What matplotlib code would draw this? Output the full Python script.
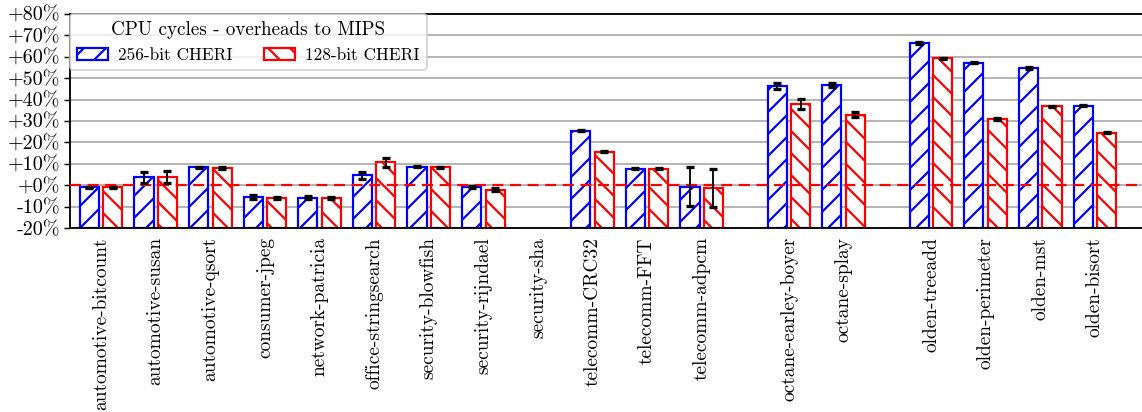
import numpy as np
import matplotlib
matplotlib.use("Agg")
import matplotlib.pyplot as plt

plt.rcParams['font.family'] = ['cmr10', 'DejaVu Serif']
plt.rcParams['axes.unicode_minus'] = False
plt.rcParams['hatch.linewidth'] = 1.2

# --- benchmarks, split into suites ---
mibench = ["automotive-bitcount", "automotive-susan", "automotive-qsort",
           "consumer-jpeg", "network-patricia", "office-stringsearch",
           "security-blowfish", "security-rijndael", "security-sha",
           "telecomm-CRC32", "telecomm-FFT", "telecomm-adpcm"]
octane = ["octane-earley-boyer", "octane-splay"]
olden = ["olden-treeadd", "olden-perimeter", "olden-mst", "olden-bisort"]

# overhead in % over MIPS (nan = no result)
cheri256 = [-1.0, 3.7, 8.4, -5.5, -5.8, 4.6, 8.6, -0.7, np.nan, 25.5, 7.7, -0.7,
            46.5, 46.8,
            66.6, 57.2, 54.9, 37.1]
cheri256_err = [0.3, 2.5, 0.3, 0.8, 0.8, 1.6, 0.3, 0.5, np.nan, 0.3, 0.3, 9.0,
                1.4, 1.0,
                0.4, 0.3, 0.4, 0.3]
cheri128 = [-1.0, 4.0, 8.0, -6.0, -6.0, 10.7, 8.4, -2.2, np.nan, 15.7, 7.7, -1.3,
            37.9, 32.9,
            59.3, 30.9, 36.9, 24.5]
cheri128_err = [0.3, 2.8, 0.3, 0.5, 0.5, 2.0, 0.3, 0.7, np.nan, 0.3, 0.3, 9.0,
                2.3, 1.1,
                0.3, 0.3, 0.3, 0.3]

yticks = [-20, -10, 0, 10, 20, 30, 40, 50, 60, 70, 80]
ytick_labels = ["%+d%%" % v if v != 0 else "+0%" for v in yticks]

# x positions: one slot per benchmark, extra space between suites
GAP = 0.6
names = []
pos = []
x = 0.0
for gi, group in enumerate([mibench, octane, olden]):
    if gi > 0:
        x += GAP
    for name in group:
        names.append(name)
        pos.append(x)
        x += 1
pos = np.array(pos)

W = 0.35
OFF = 0.215
YMIN, YMAX = -20, 80

fig = plt.figure(figsize=(1142 / 132, 412 / 132), dpi=132)
ax = fig.add_axes([70 / 1142, 184 / 412, 1100 / 1142, 214 / 412])

# bars rise from the bottom of the plot, not from zero
h256 = np.array(cheri256) - YMIN
h128 = np.array(cheri128) - YMIN
ax.bar(pos - OFF, h256, W, bottom=YMIN, color='white', edgecolor='blue',
       hatch='//', linewidth=1.2, label='256-bit CHERI', zorder=2)
ax.bar(pos + OFF, h128, W, bottom=YMIN, color='white', edgecolor='red',
       hatch='\\\\', linewidth=1.2, label='128-bit CHERI', zorder=2)
ax.errorbar(pos - OFF, cheri256, yerr=cheri256_err, fmt='none', ecolor='black',
            elinewidth=1.0, capsize=2.3, capthick=1.8, zorder=4)
ax.errorbar(pos + OFF, cheri128, yerr=cheri128_err, fmt='none', ecolor='black',
            elinewidth=1.0, capsize=2.3, capthick=1.8, zorder=4)

ax.axhline(0, color='red', linestyle=(0, (5, 3)), linewidth=1.2, zorder=3)

ax.set_ylim(YMIN, YMAX)
ax.set_yticks(yticks)
ax.set_yticklabels(ytick_labels, fontsize=11)
ax.yaxis.grid(True, color='#b0b0b0', linewidth=1.0, zorder=0)
ax.set_axisbelow(True)

ax.set_xlim(-0.57, -0.57 + 1100 / 54.6)
ax.set_xticks(pos)
ax.set_xticklabels(names, rotation=90, fontsize=10.6)
ax.tick_params(axis='x', length=0, pad=5)
ax.tick_params(axis='y', length=3.5, width=0.8, pad=2)

for s in ax.spines.values():
    s.set_linewidth(1.0)

leg = ax.legend(title='CPU cycles - overheads to MIPS', loc='upper left',
                ncol=2, fontsize=9.4, title_fontsize=10.4, borderaxespad=0,
                handlelength=1.8, handleheight=0.75, handletextpad=0.6,
                columnspacing=1.8, framealpha=0.8)

fig.savefig('out.png', dpi=132)
